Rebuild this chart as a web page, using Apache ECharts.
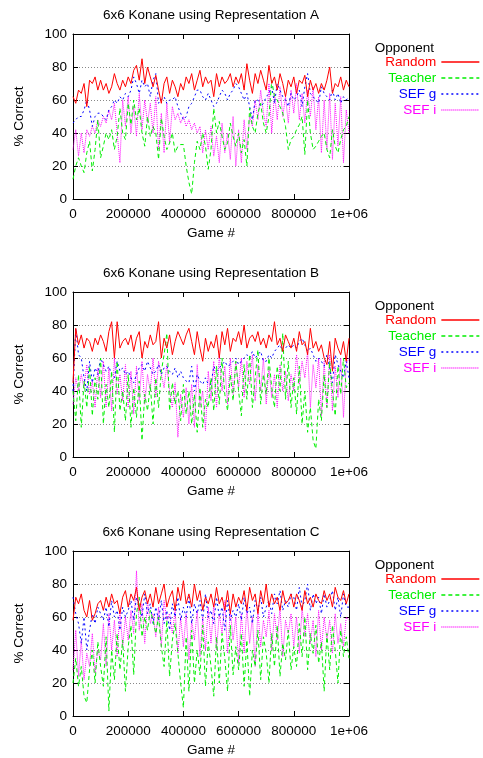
<!DOCTYPE html>
<html>
<head>
<meta charset="utf-8">
<script src="https://cdn.jsdelivr.net/npm/echarts@6/dist/echarts.min.js"></script>
<style>
  html, body { margin: 0; padding: 0; background: #fff; }
  #chart { width: 483px; height: 758px; }
</style>
</head>
<body>
<div id="chart"></div>
<script>
// sampling grid: one point every 10000 games, 0 .. 1e6
var STEP = 10000;
var panelNames = ["A", "B", "C"];
var seriesNames = ["Random", "Teacher", "SEF g", "SEF i"];

// Representation A
var randomA = [62,58,66,64,70,56,72,70,74,66, 72,66,70,64,68,76,70,66,72,68, 74,70,78,81,72,85,70,80,74,68,
  75,66,58,70,74,64,72,68,62,70, 66,74,70,76,66,72,78,68,74,70, 72,62,76,68,74,70,72,76,68,74,
  70,76,66,82,72,64,76,70,78,72, 66,81,70,74,66,76,70,62,72,68, 74,64,72,70,75,62,72,66,70,64,
  70,66,72,80,64,70,68,74,66,72, 68];
var teacherA = [12,20,25,20,16,28,35,17,30,48, 25,32,40,36,42,30,38,55,40,36, 58,45,60,48,55,40,32,50,38,44,
  40,24,49,38,30,34,40,28,32,33, 33,20,10,3,22,35,30,40,32,18, 30,55,40,47,38,30,34,46,38,32,
  40,28,36,20,55,44,40,52,58,46, 40,50,72,62,60,56,52,44,30,36, 38,42,45,50,27,60,40,30,32,35,
  38,40,30,25,42,32,28,36,42,44, 50];
var sefgA = [46,48,50,50,54,60,54,44,50,52, 52,50,48,54,56,60,58,62,60,64, 62,66,74,70,64,72,68,70,62,72,
  76,58,60,62,58,60,60,62,56,52, 48,50,56,58,62,66,66,62,60,64, 60,56,58,62,66,64,60,64,66,70,
  68,64,60,64,56,48,60,60,56,58, 62,64,68,58,70,66,62,60,56,64, 60,62,66,56,68,76,64,62,60,58,
  68,64,62,60,66,60,64,58,62,60, 62];
var sefiA = [30,42,26,40,28,42,38,44,40,48, 44,50,46,54,48,58,40,22,60,44, 62,40,56,38,64,42,60,46,58,40,
  62,30,52,28,58,34,56,48,52,46, 50,44,48,42,46,40,44,28,42,30, 44,26,38,22,46,28,40,24,50,20,
  42,22,48,30,50,44,60,48,66,52, 44,70,40,64,48,68,50,62,46,66, 52,70,48,64,46,66,50,68,42,62,
  28,60,30,64,24,58,32,62,22,54, 40];

// Representation B
var randomB = [45,78,68,74,66,72,70,64,72,68, 74,70,64,76,82,60,82,66,70,72, 68,74,64,72,76,60,70,66,74,68,
  70,82,60,72,66,74,62,70,76,72, 68,74,78,70,62,76,66,58,72,64, 70,66,74,60,76,68,78,64,72,70,
  76,68,80,66,72,74,70,76,68,72, 66,74,70,82,68,72,64,74,70,66, 72,64,76,68,70,62,78,66,70,64,
  68,60,56,70,52,72,66,62,70,58, 72];
var teacherB = [40,22,50,18,46,30,55,25,48,35, 60,20,44,30,52,15,58,28,40,22, 50,18,42,24,46,10,38,28,44,20,
  48,30,52,62,75,28,45,32,40,22, 44,26,40,20,38,15,42,18,35,30, 48,28,55,32,60,38,28,50,34,58,
  40,25,56,35,62,30,48,65,32,50, 38,60,42,30,55,40,75,35,58,30, 48,26,55,20,40,15,30,10,5,35,
  22,50,30,58,40,25,55,38,60,42, 45];
var sefgB = [40,78,62,60,48,40,58,45,54,50, 60,56,52,55,50,48,58,52,54,50, 52,48,45,50,54,56,52,58,54,50,
  52,56,50,54,55,52,50,54,48,52, 48,46,45,55,40,50,46,44,48,44, 44,55,52,54,56,58,55,56,58,60,
  56,58,60,62,60,64,60,62,64,58, 58,62,60,64,66,68,64,66,68,66, 68,66,70,72,68,64,66,62,58,60,
  58,55,62,54,45,62,56,52,48,58, 48];
var sefiB = [32,48,40,50,42,56,38,46,30,54, 36,58,30,54,28,60,38,50,34,56, 30,52,26,55,34,58,32,50,40,60,
  36,58,50,42,56,40,30,45,12,38, 24,42,20,44,18,56,30,40,16,52, 34,58,30,62,40,55,32,60,38,58,
  42,60,36,58,44,62,34,56,40,60, 32,54,36,50,30,56,40,52,34,50, 40,62,44,58,48,64,30,56,42,60,
  25,58,30,62,28,55,36,60,24,56, 60];

// Representation C
var randomC = [58,72,68,74,64,60,70,58,62,68, 70,64,72,66,74,68,70,62,72,76, 66,74,70,78,64,72,76,68,74,66,
  78,68,74,80,66,72,76,64,78,70, 82,68,74,66,80,70,76,64,72,68, 74,66,78,68,72,64,76,62,74,66,
  72,68,76,64,78,70,74,62,76,68, 80,66,74,68,72,64,76,68,70,74, 66,74,70,64,76,68,72,66,74,70,
  68,76,70,74,66,78,72,70,76,68, 74];
var teacherC = [20,35,18,30,12,8,28,40,20,45, 30,18,48,3,40,22,50,28,46,15, 42,55,25,62,72,48,60,52,64,58,
  50,60,42,30,58,24,46,56,38,20, 5,48,15,52,20,40,25,55,18,45, 30,12,48,20,50,35,15,55,25,42,
  28,50,18,46,12,40,30,52,22,48, 38,20,50,30,55,24,44,34,52,28, 42,30,56,36,60,28,50,38,55,32,
  45,15,50,28,55,40,20,52,36,48, 35];
var sefgC = [72,62,56,44,60,40,52,62,56,66, 62,58,66,54,70,60,64,52,66,60, 64,70,58,72,66,60,74,62,68,56,
  66,58,70,56,64,52,68,60,72,58, 66,60,72,56,68,62,70,58,74,60, 64,56,72,60,66,52,70,58,64,60,
  68,58,72,62,66,56,70,64,72,60, 66,70,62,74,68,76,64,70,66,74, 72,64,78,66,70,80,64,74,68,72,
  62,74,66,70,76,64,72,60,74,66, 66];
var sefiC = [28,52,24,46,22,38,30,50,26,40, 34,56,30,62,40,58,36,64,42,60, 46,64,50,88,52,68,44,70,56,62,
  48,66,42,70,58,62,50,64,38,60, 42,62,34,58,46,64,36,60,40,66, 44,68,40,62,50,70,38,64,46,60,
  32,62,38,66,44,60,30,64,42,58, 48,64,40,62,46,66,36,58,50,62, 42,60,38,66,48,62,44,58,36,64,
  40,60,46,58,38,62,44,56,42,60, 58];

var panelData = [
  [randomA, teacherA, sefgA, sefiA],
  [randomB, teacherB, sefgB, sefiB],
  [randomC, teacherC, sefgC, sefiC]
];

var colors = ["#ff0000", "#00ee00", "#0000ff", "#ff00ff"];
var dashes = ["solid", [4, 3], [2, 3], [1, 1]];

var chart = echarts.init(document.getElementById("chart"));
var font = "'Liberation Sans', Arial, sans-serif";
var fs = 13.5;

var plotLeft = 73, plotWidth = 276, plotHeight = 165;
var plotTops = [34, 292, 551];

function toPairs(arr) {
  return arr.map(function (v, i) { return [i * STEP, v]; });
}

var option = {
  animation: false,
  textStyle: { fontFamily: font },
  title: [], grid: [], xAxis: [], yAxis: [], legend: [], series: [], graphic: []
};

plotTops.forEach(function (top, p) {
  option.title.push({
    text: "6x6 Konane using Representation " + panelNames[p],
    left: plotLeft + plotWidth / 2, top: top - 26, textAlign: "center", padding: 0,
    textStyle: { fontSize: fs, fontWeight: "normal", color: "#000", fontFamily: font }
  });
  option.grid.push({ left: plotLeft, top: top, width: plotWidth, height: plotHeight });

  var xBase = {
    type: "value", gridIndex: p, min: 0, max: 1000000, interval: 200000,
    axisLine: { show: true, onZero: false, lineStyle: { color: "#000", width: 1 } },
    axisTick: { show: true, inside: true, length: 5, lineStyle: { color: "#000" } },
    splitLine: { show: false }
  };
  option.xAxis.push(Object.assign({}, xBase, {
    position: "bottom",
    name: "Game #", nameLocation: "middle", nameGap: 27,
    nameTextStyle: { fontSize: fs, color: "#000", fontFamily: font },
    axisLabel: {
      fontSize: fs, color: "#000", margin: 8, fontFamily: font,
      formatter: function (v) { return v === 1000000 ? "1e+06" : String(v); }
    }
  }));
  option.xAxis.push(Object.assign({}, xBase, { position: "top", axisLabel: { show: false } }));

  var yBase = {
    type: "value", gridIndex: p, min: 0, max: 100, interval: 20,
    axisLine: { show: true, onZero: false, lineStyle: { color: "#000", width: 1 } },
    axisTick: { show: true, inside: true, length: 5, lineStyle: { color: "#000" } }
  };
  option.yAxis.push(Object.assign({}, yBase, {
    position: "left",
    name: "% Correct", nameLocation: "middle", nameGap: 47,
    nameTextStyle: { fontSize: fs, color: "#000", fontFamily: font },
    axisLabel: { fontSize: fs, color: "#000", margin: 6, fontFamily: font },
    splitLine: {
      show: true,
      lineStyle: { color: ["rgba(0,0,0,0)", "#888", "#888", "#888", "#888", "rgba(0,0,0,0)"], type: [1, 2], width: 1 }
    }
  }));
  option.yAxis.push(Object.assign({}, yBase, { position: "right", axisLabel: { show: false }, splitLine: { show: false } }));

  option.legend.push({
    orient: "vertical", align: "right",
    right: 3, top: top + 21, padding: 0,
    itemWidth: 38, itemHeight: 10, itemGap: 2,
    selectedMode: false,
    itemStyle: { opacity: 0 },
    lineStyle: { width: 1.3 },
    textStyle: { fontSize: fs, fontFamily: font },
    data: seriesNames.map(function (n, k) {
      return { name: n, textStyle: { color: colors[k] } };
    })
  });

  option.graphic.push({
    type: "text", right: 49, top: top + 7,
    style: { text: "Opponent", fill: "#000", font: fs + "px " + font }
  });

  panelData[p].forEach(function (arr, k) {
    option.series.push({
      name: seriesNames[k], type: "line",
      xAxisIndex: p * 2, yAxisIndex: p * 2,
      data: toPairs(arr),
      symbol: "none", z: 10 - k,
      lineStyle: { color: colors[k], width: 1, type: dashes[k] },
      itemStyle: { color: colors[k] }
    });
  });
});

chart.setOption(option);
window.onresize = chart.resize;
</script>
</body>
</html>
